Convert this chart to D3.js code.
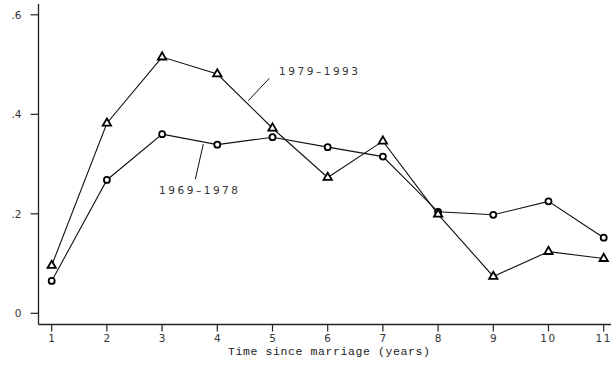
<!DOCTYPE html>
<html>
<head>
<meta charset="utf-8">
<script src="https://cdn.jsdelivr.net/npm/d3@7"></script>
<style>
  html, body { margin: 0; padding: 0; background: #fff; }
  svg { display: block; }
</style>
</head>
<body>
<svg id="chart" width="611" height="365"></svg>
<script>
// Years since marriage
const years = [1, 2, 3, 4, 5, 6, 7, 8, 9, 10, 11];
// Rate by marriage cohort
const cohort1979 = [0.096, 0.382, 0.515, 0.481, 0.372, 0.273, 0.346, 0.199, 0.074, 0.124, 0.110];
const cohort1969 = [0.065, 0.268, 0.360, 0.339, 0.354, 0.334, 0.315, 0.204, 0.198, 0.225, 0.152];
const yTicks = [0, 0.2, 0.4, 0.6];
const yTickLabels = ["0", ".2", ".4", ".6"];
const seriesLabels = ["1979\u20131993", "1969\u20131978"];

const svg = d3.select("#chart");

const x = d3.scaleLinear().domain([1, 11]).range([51.7, 603.7]);
const y = d3.scaleLinear().domain([0, 0.6]).range([313.3, 14.8]);

const axisX = 38.5, axisY = 324.5;
const ink = "#000";

// Axes lines
svg.append("line").attr("x1", axisX).attr("x2", axisX).attr("y1", 4).attr("y2", axisY)
  .attr("stroke", "#222").attr("stroke-width", 1.3);
svg.append("line").attr("x1", axisX).attr("x2", 611).attr("y1", axisY).attr("y2", axisY)
  .attr("stroke", "#222").attr("stroke-width", 1.3);

// Y ticks
const yAxis = svg.append("g");
yTicks.forEach((t, i) => {
  yAxis.append("line").attr("x1", axisX - 8).attr("x2", axisX).attr("y1", y(t)).attr("y2", y(t))
    .attr("stroke", "#222").attr("stroke-width", 1.2);
  yAxis.append("text").attr("x", axisX - 17).attr("y", y(t) + 4)
    .attr("text-anchor", "end").attr("font-family", "DejaVu Sans, sans-serif")
    .attr("font-size", 10.5).attr("fill", "#333").text(yTickLabels[i]);
});

// X ticks
const xAxis = svg.append("g");
years.forEach(t => {
  xAxis.append("line").attr("x1", x(t)).attr("x2", x(t)).attr("y1", axisY).attr("y2", axisY + 7)
    .attr("stroke", "#222").attr("stroke-width", 1.2);
  xAxis.append("text").attr("x", x(t)).attr("y", axisY + 17)
    .attr("text-anchor", "middle").attr("font-family", "DejaVu Sans, sans-serif")
    .attr("font-size", 10.5).attr("letter-spacing", t >= 10 ? 1.5 : 0)
    .attr("fill", "#333").text(t);
});

// Axis title
svg.append("text").attr("x", 228).attr("y", 355)
  .attr("font-family", "Liberation Mono, Courier New, monospace")
  .attr("font-size", 11.5).attr("fill", "#222")
  .attr("textLength", 202).attr("lengthAdjust", "spacing")
  .text("Time since marriage (years)");

const line = d3.line().x((d, i) => x(years[i])).y(d => y(d));

// Lines
[cohort1969, cohort1979].forEach(s => {
  svg.append("path").datum(s).attr("d", line)
    .attr("fill", "none").attr("stroke", "#111").attr("stroke-width", 1.1);
});

// Circle markers
svg.append("g").selectAll("circle").data(cohort1969).join("circle")
  .attr("cx", (d, i) => x(years[i])).attr("cy", d => y(d)).attr("r", 3)
  .attr("fill", "#fff").attr("stroke", ink).attr("stroke-width", 1.8);

// Triangle markers
const tri = d3.symbol().type(d3.symbolTriangle).size(30);
svg.append("g").selectAll("path").data(cohort1979).join("path")
  .attr("d", tri)
  .attr("transform", (d, i) => `translate(${x(years[i])},${y(d)})`)
  .attr("fill", "#fff").attr("stroke", ink).attr("stroke-width", 1.8);

// Series labels with leader lines
svg.append("line").attr("x1", 269.3).attr("y1", 78.3).attr("x2", 248.3).attr("y2", 100.7)
  .attr("stroke", "#111").attr("stroke-width", 1);
svg.append("line").attr("x1", 203.3).attr("y1", 144).attr("x2", 195.3).attr("y2", 179.3)
  .attr("stroke", "#111").attr("stroke-width", 1);

svg.append("text").attr("x", 279).attr("y", 75)
  .attr("font-family", "DejaVu Sans, sans-serif").attr("font-size", 10.5)
  .attr("fill", "#333").attr("textLength", 79).attr("lengthAdjust", "spacing")
  .text(seriesLabels[0]);
svg.append("text").attr("x", 159).attr("y", 194)
  .attr("font-family", "DejaVu Sans, sans-serif").attr("font-size", 10.5)
  .attr("fill", "#333").attr("textLength", 79).attr("lengthAdjust", "spacing")
  .text(seriesLabels[1]);
</script>
</body>
</html>
